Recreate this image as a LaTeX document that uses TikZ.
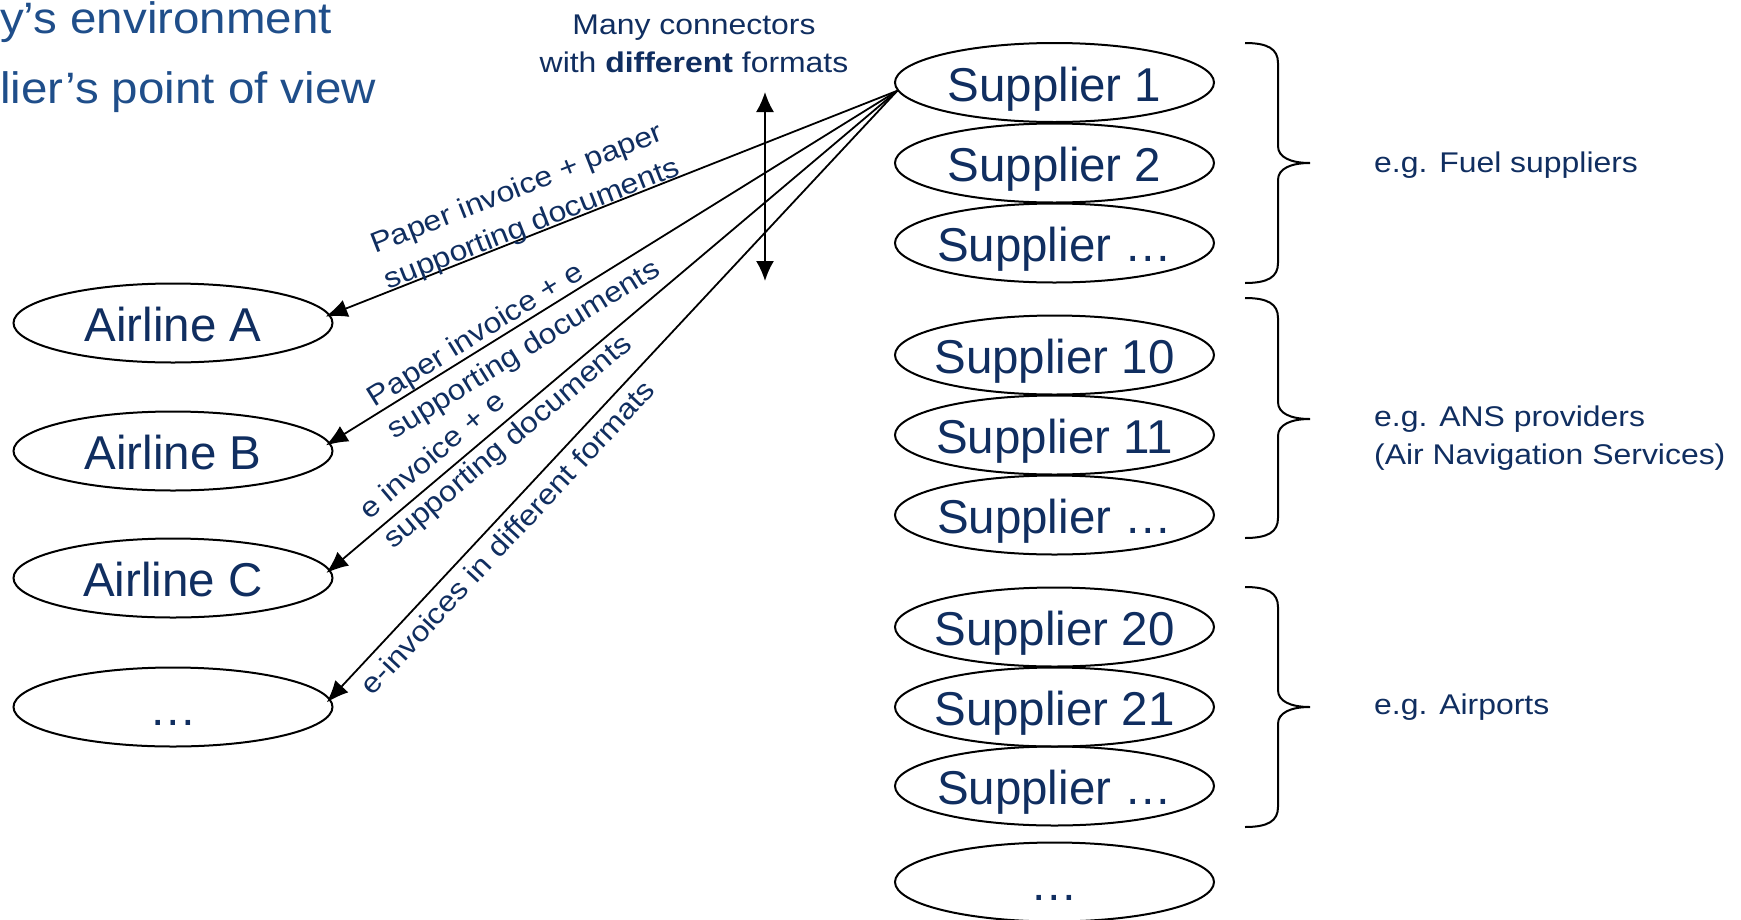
\documentclass[tikz,border=0pt]{standalone}
\usepackage{fontspec}
\setmainfont{Liberation Sans}
\newfontfamily\smallfont{Liberation Sans}[FakeStretch=1.12]
\newfontfamily\titlefont{Liberation Sans}[FakeStretch=1.08]
\usetikzlibrary{shapes.geometric,arrows.meta,calc}
\definecolor{navy}{RGB}{16,46,96}
\definecolor{titleblue}{RGB}{31,78,138}
\newcommand\ellnode[4]{%
  \node[oval] (#1) at (#2,#3) {};
  \node[bigtext] (#1t) at ([yshift=-18.5pt]#1.center) {#4};}
\newcommand\grpbrace[3]{%
  \draw[bracestyle] (1245,#1) .. controls (1268,#1) and (1278,#1+6) .. (1278,#1+20)
    -- (1278,#2-17) .. controls (1278,#2-6) and (1290,#2) .. (1310,#2)
    .. controls (1290,#2) and (1278,#2+6) .. (1278,#2+17)
    -- (1278,#3-20) .. controls (1278,#3-6) and (1268,#3) .. (1245,#3);}
\begin{document}
\begin{tikzpicture}[x=1pt,y=-1pt,
  oval/.style={draw, ellipse, line width=2pt, minimum width=319pt, minimum height=79pt, inner sep=0pt},
  bigtext/.style={anchor=base, inner sep=0pt, text=navy, font=\fontsize{47.5}{57}\selectfont},
  smalltext/.style={inner sep=0pt, text=navy, font=\smallfont\fontsize{28.5}{38}\selectfont},
  titletext/.style={inner sep=0pt, text=titleblue, font=\titlefont\fontsize{44}{52}\selectfont},
  conn/.style={line width=1.8pt, -{Latex[length=22pt,width=18pt]}, shorten >=-5pt},
  bracestyle/.style={line width=2pt},
]
\useasboundingbox (0,0) rectangle (1741,919);
\clip (0,0) rectangle (1741,919);

% title (cut off at the left)
\node[titletext, anchor=base west] (t1) at (0,33) {y’s environment};
\node[titletext, anchor=base west] (t2) at (0,103) {lier’s point of view};

% airlines
\ellnode{al1}{173}{323}{Airline A}
\ellnode{al2}{173}{451}{Airline B}
\ellnode{al3}{173}{578}{Airline C}
\ellnode{al4}{173}{707}{…}

% suppliers
\ellnode{s1}{1054.5}{82.5}{Supplier 1}
\ellnode{s2}{1054.5}{163}{Supplier 2}
\ellnode{s3}{1054.5}{243}{Supplier …}
\ellnode{s10}{1054.5}{355}{Supplier 10}
\ellnode{s11}{1054.5}{435}{Supplier 11}
\ellnode{s12}{1054.5}{515}{Supplier …}
\ellnode{s20}{1054.5}{627}{Supplier 20}
\ellnode{s21}{1054.5}{707}{Supplier 21}
\ellnode{s22}{1054.5}{786}{Supplier …}
\ellnode{s30}{1054.5}{882}{…}

% connectors
\draw[conn] (s1.183) -- (al1.3);
\draw[conn] (s1.183) -- (al2.3);
\draw[conn] (s1.183) -- (al3.3);
\draw[conn] (s1.183) -- (al4.3);

% connector labels
\node[smalltext, align=left, anchor=south west, rotate=21.48] (l1) at (391,295)
  {Paper invoice + paper\\supporting documents};
\node[smalltext, align=left, anchor=south west, rotate=31.82] (l2) at (398,445)
  {Paper invoice + e\\supporting documents};
\node[smalltext, align=left, anchor=south west, rotate=40.22] (l3) at (397.5,554.5)
  {e invoice + e\\supporting documents};
\node[smalltext, align=left, anchor=north west, rotate=47.05] (l4) at (357.5,682)
  {e-invoices in different formats};

% many connectors note
\node[smalltext, align=center, anchor=north] (mc) at (694,14.6)
  {Many connectors\\with \textbf{different} formats};
\coordinate (dt) at (765,92);
\coordinate (db) at (765,281);
\draw[line width=1.8pt, {Latex[length=20pt,width=18pt]}-{Latex[length=20pt,width=18pt]}] (dt) -- (db);

% braces and group labels
\grpbrace{43}{163}{283}
\grpbrace{298}{419}{538}
\grpbrace{587}{707}{827}
\node[smalltext, anchor=base west] (g1) at (1374,172) {e.g. Fuel suppliers};
\node[smalltext, anchor=north west, align=left] (g2) at (1374,406)
  {e.g. ANS providers\\(Air Navigation Services)};
\node[smalltext, anchor=base west] (g3) at (1374,714) {e.g. Airports};
\end{tikzpicture}
\end{document}
